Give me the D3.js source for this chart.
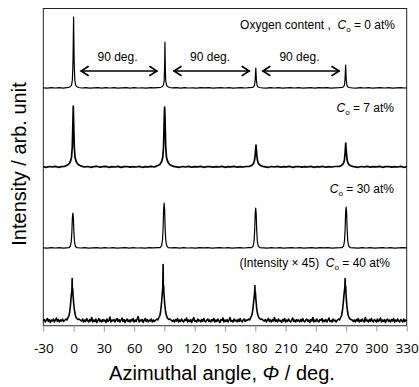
<!DOCTYPE html>
<html><head><meta charset="utf-8">
<script src="https://cdn.jsdelivr.net/npm/d3@7"></script>
<style>body{margin:0;background:#fff}svg{display:block}</style>
</head><body>
<script>
// ---- data ----
const tickLabels = [-30,0,30,60,90,120,150,180,210,240,270,300,330];
const seriesNames = ["Co = 0 at%","Co = 7 at%","Co = 30 at%","Co = 40 at%"];
const seriesOffsets = [237.5,158.5,77.5,4];
const co0 = [[-30,0.2],[-26,-0.2],[-22,0.3],[-18,0],[-14,0.4],[-10,-0.1],[-7,0.3],
[-5,0.5],[-3,1.5],[-2,3],[-1.2,8],[-0.6,25],[-0.2,55],[0,71],[0.2,55],[0.6,25],[1.2,8],[2,3],[3,1.5],[5,0.5],
[8,0],[12,0.3],[16,-0.2],[20,0.2],[24,0.4],[28,-0.1],[32,0.3],[36,0],[40,0.4],[44,-0.2],[48,0.2],[52,0.3],[56,-0.1],[60,0.3],[64,0],[68,0.2],[72,-0.2],[76,0.3],[80,0.1],[84,0.4],
[86,0.5],[88,1.5],[89,3],[89.7,7],[90.1,18],[90.4,38],[90.5,46],[90.6,38],[90.9,18],[91.3,7],[92,3],[93,1.5],[95,0.5],
[98,0.1],[102,0.3],[106,-0.1],[110,0.4],[114,0],[118,0.2],[122,-0.2],[126,0.3],[130,0.1],[134,0.4],[138,-0.1],[142,0.2],[146,0.3],[150,0],[154,0.4],[158,-0.1],[162,0.2],[166,0.3],[170,0],[174,0.3],
[177,0.5],[178.5,1.3],[179.3,3],[179.9,8],[180.3,16],[180.5,20],[180.7,16],[181.1,8],[181.7,3],[182.5,1.3],[184,0.5],
[187,0.2],[191,-0.1],[195,0.3],[199,0],[203,0.4],[207,-0.2],[211,0.2],[215,0.3],[219,0],[223,0.4],[227,-0.1],[231,0.2],[235,0.3],[239,-0.1],[243,0.3],[247,0.1],[251,0.4],[255,-0.1],[259,0.2],[263,0.3],
[266,0.5],[267.5,1.3],[268.3,3],[268.9,8],[269.3,18],[269.5,23],[269.7,18],[270.1,8],[270.7,3],[271.5,1.3],[273,0.5],
[276,0.2],[280,-0.1],[284,0.3],[288,0],[292,0.4],[296,-0.1],[300,0.2],[304,0.3],[308,0],[312,0.3],[316,-0.2],[320,0.2],[324,0.3],[328,0],[330,0.2]];
const co7 = [[-30,0.3],[-27,-0.4],[-24,0.5],[-21,0],[-18,0.6],[-15,-0.3],[-12,0.4],
[-9,0.6],[-7,1.5],[-5.2,2.5],[-4,4],[-3,6],[-2,10],[-1.3,20],[-0.9,35],[-0.5,52],[-0.3,61],[-0.1,52],[0.3,35],[0.7,20],[1.4,10],[2.4,6],[3.4,4],[4.6,2.5],[6.4,1.5],[8.4,0.6],
[11,0],[14,0.5],[17,-0.3],[20,0.4],[23,0.7],[26,-0.2],[29,0.3],[32,0.6],[35,-0.3],[38,0.4],[41,0],[44,0.6],[47,-0.4],[50,0.3],[53,0.5],[56,-0.2],[59,0.4],[62,0],[65,0.6],[68,-0.3],[71,0.4],[74,0.2],[77,0.7],[80,0],
[81.5,0.6],[83.5,1.5],[85.5,2.5],[86.4,4],[87.4,6],[88.4,10],[89.1,20],[89.5,35],[89.9,52],[90.2,60],[90.5,52],[90.9,35],[91.3,20],[92,10],[93,6],[94,4],[95.2,2.5],[97,1.5],[99,0.6],
[102,0.2],[105,-0.3],[108,0.5],[111,0],[114,0.6],[117,-0.2],[120,0.4],[123,0.1],[126,0.6],[129,-0.3],[132,0.3],[135,0.5],[138,-0.2],[141,0.4],[144,0],[147,0.6],[150,-0.3],[153,0.4],[156,0.2],[159,0.6],[162,-0.2],[165,0.4],[168,0],[171,0.5],
[174,0.6],[176,1.3],[177.5,2.5],[178.5,4],[179.3,7],[179.9,12],[180.4,18],[180.7,22],[181,18],[181.5,12],[182.1,7],[182.9,4],[183.9,2.5],[185.4,1.3],[187.4,0.6],
[190,0.2],[193,-0.3],[196,0.5],[199,0],[202,0.6],[205,-0.2],[208,0.4],[211,0.1],[214,0.6],[217,-0.3],[220,0.3],[223,0.5],[226,-0.2],[229,0.4],[232,0],[235,0.6],[238,-0.3],[241,0.4],[244,0.2],[247,0.6],[250,-0.2],[253,0.4],[256,0],[259,0.5],
[263,0.6],[265,1.3],[266.5,2.5],[267.5,4],[268.3,7],[268.9,13],[269.3,19],[269.6,24],[269.9,19],[270.4,13],[271,7],[271.8,4],[272.8,2.5],[274.3,1.3],[276.3,0.6],
[279,0.2],[282,-0.3],[285,0.5],[288,0],[291,0.6],[294,-0.2],[297,0.4],[300,0.1],[303,0.6],[306,-0.3],[309,0.3],[312,0.5],[315,-0.2],[318,0.4],[321,0],[324,0.6],[327,-0.3],[330,0.3]];
const co30 = [[-30,0.2],[-26,-0.2],[-22,0.3],[-18,0],[-14,0.3],[-10,-0.1],[-7,0.2],
[-4.7,0.3],[-3.2,1.8],[-2.3,6.3],[-1.7,16],[-1.2,30],[-0.7,35],[-0.2,30],[0.3,16],[0.9,6.3],[1.8,1.8],[3.3,0.3],
[7,0],[11,0.3],[15,-0.2],[19,0.2],[23,0.3],[27,-0.1],[31,0.3],[35,0],[39,0.3],[43,-0.2],[47,0.2],[51,0.3],[55,-0.1],[59,0.3],[63,0],[67,0.2],[71,-0.2],[75,0.3],[79,0.1],[83,0.3],
[85.7,0.4],[87.2,2.3],[88.1,8],[88.7,20],[89.2,38],[89.7,45],[90.2,38],[90.7,20],[91.3,8],[92.2,2.3],[93.7,0.4],
[97,0.1],[101,0.3],[105,-0.1],[109,0.3],[113,0],[117,0.2],[121,-0.2],[125,0.3],[129,0.1],[133,0.3],[137,-0.1],[141,0.2],[145,0.3],[149,0],[153,0.3],[157,-0.1],[161,0.2],[165,0.3],[169,0],[173,0.3],
[176.4,0.4],[177.9,2],[178.8,7],[179.4,18],[179.9,34],[180.4,40],[180.9,34],[181.4,18],[182,7],[182.9,2],[184.4,0.4],
[188,0.2],[192,-0.1],[196,0.3],[200,0],[204,0.3],[208,-0.2],[212,0.2],[216,0.3],[220,0],[224,0.3],[228,-0.1],[232,0.2],[236,0.3],[240,-0.1],[244,0.3],[248,0.1],[252,0.3],[256,-0.1],[260,0.2],[264,0.3],
[266,0.4],[267.5,2],[268.4,7.4],[269,18.5],[269.5,35],[270,41],[270.5,35],[271,18.5],[271.6,7.4],[272.5,2],[274,0.4],
[278,0.2],[282,-0.1],[286,0.3],[290,0],[294,0.3],[298,-0.1],[302,0.2],[306,0.3],[310,0],[314,0.3],[318,-0.2],[322,0.2],[326,0.3],[330,0.1]];
const co40 = [[-30,0.5],[-29,2],[-28,-0.5],[-27,1.5],[-26,3],[-25,0],[-24,2],[-23,-1],[-22,1.5],[-21,0.5],[-20,2.5],[-19,-0.5],[-18,1.5],[-17,3.5],[-16,0],[-15,2],[-14,-0.5],[-13,1.5],[-12,0.5],[-11,2.5],[-10,0],
[-9,1],[-7.5,2.5],[-6.5,1.5],[-5.5,4],[-4.5,6],[-3.8,10],[-3.2,15],[-2.6,22],[-2.1,28],[-1.7,31],[-1.4,43],[-1.2,30],[-0.9,33],[-0.6,27],[-0.2,22],[0.3,16],[0.9,11],[1.6,7],[2.4,4],[3.2,3],[4.2,2],[5.5,2.5],[7,1],
[8,0.5],[9,2.5],[10,-0.5],[11,1.5],[12,0],[13,3],[14,1],[15,-0.5],[16,2],[17,0.5],[18,4],[19,-0.5],[20,1.5],[21,0],[22,2.5],[23,-1],[24,1],[25,3],[26,0],[27,1.5],[28,-0.5],[29,2],[30,0.5],[31,1.5],[32,-1],[33,2.5],[34,0],[35,1],[36,4.5],[37,-0.5],[38,1.5],[39,0.5],[40,2],[41,-0.5],[42,1.5],[43,3],[44,0],
[45,2],[46,-0.5],[47,1.5],[48,3.5],[49,0],[50,2],[51,-1],[52,1],[53,2.5],[54,0],[55,1.5],[56,-0.5],[57,2],[58,0.5],[59,3],[60,-0.5],[61,1.5],[62,0],[63,2.5],[64,5],[65,-0.5],[66,1.5],[67,0.5],[68,2],[69,-1],[70,1.5],[71,3],[72,0],[73,2],[74,-0.5],[75,1.5],[76,0.5],[77,2.5],[78,-0.5],[79,1.5],[80,0],
[81,1],[82.5,2.5],[83.5,1.5],[84.5,4],[85.5,6],[86.2,10],[86.8,15],[87.4,22],[87.9,29],[88.3,33],[88.7,57],[88.9,34],[89.2,36],[89.5,28],[89.9,23],[90.4,16],[91,11],[91.7,7],[92.5,4.5],[93.3,3],[94.3,2],[95.5,2.5],[97,1],
[98,0],[99,1.5],[100,-0.5],[101,2],[102,0.5],[103,3],[104,-0.5],[105,1.5],[106,0],[107,2.5],[108,0.5],[109,-0.5],[110,2],[111,1],[112,3.5],[113,-0.5],[114,1.5],[115,0],[116,2],[117,-1],[118,1.5],[119,4],[120,0],[121,1],[122,-0.5],[123,2.5],[124,0.5],[125,1.5],[126,-0.5],[127,2],[128,0],[129,3],[130,0.5],[131,-0.5],[132,1.5],[133,2.5],[134,0],
[135,1.5],[136,-0.5],[137,2],[138,0.5],[139,3],[140,-0.5],[141,1.5],[142,0],[143,2.5],[144,0.5],[145,-1],[146,2],[147,1],[148,3.5],[149,-0.5],[150,1.5],[151,0],[152,2],[153,-0.5],[154,1.5],[155,4],[156,0],[157,1],[158,-0.5],[159,2.5],[160,0.5],[161,1.5],[162,-0.5],[163,2],[164,0],[165,3],[166,0.5],[167,-0.5],[168,1.5],[169,2.5],[170,0],[171,1.5],
[172,1],[173.5,2.5],[174.5,1.5],[175.5,4],[176.5,6],[177.2,9],[177.8,14],[178.4,20],[178.9,25],[179.3,28],[179.6,36],[179.9,27],[180.2,29],[180.5,23],[180.9,19],[181.4,13],[182,9],[182.7,6],[183.5,4],[184.3,3],[185.3,2],[186.5,2.5],[188,1],
[189,0.5],[190,2],[191,-0.5],[192,1.5],[193,3],[194,0],[195,1.5],[196,-0.5],[197,2],[198,0.5],[199,4],[200,0],[201,1.5],[202,-0.5],[203,2.5],[204,0.5],[205,1],[206,-1],[207,2],[208,0.5],[209,3],[210,-0.5],[211,1.5],[212,0],[213,2.5],[214,0.5],[215,-0.5],[216,1.5],[217,3.5],[218,0],[219,1.5],[220,-0.5],[221,2],[222,0.5],[223,1.5],[224,-0.5],
[225,2],[226,0],[227,3],[228,0.5],[229,-0.5],[230,1.5],[231,2.5],[232,0],[233,1.5],[234,-1],[235,2],[236,0.5],[237,4],[238,-0.5],[239,1.5],[240,0],[241,2.5],[242,0.5],[243,-0.5],[244,2],[245,1],[246,3],[247,-0.5],[248,1.5],[249,0],[250,2],[251,-0.5],[252,1.5],[253,3.5],[254,0],[255,1],[256,-0.5],[257,2.5],[258,0.5],[259,1.5],[260,-0.5],
[261,1],[262.5,2.5],[263.5,1.5],[264.5,4],[265.5,6],[266.2,10],[266.8,15],[267.4,21],[267.9,27],[268.3,31],[268.7,34],[269,43],[269.3,33],[269.6,35],[269.9,27],[270.3,21],[270.8,15],[271.4,10],[272.1,6],[272.9,4],[273.8,2.5],[275,2],[276.5,1],
[277,0],[278,1.5],[279,-0.5],[280,2],[281,0.5],[282,3],[283,-0.5],[284,1.5],[285,0],[286,2.5],[287,0.5],[288,-0.5],[289,4],[290,0.5],[291,1.5],[292,-0.5],[293,2],[294,0],[295,3],[296,0.5],[297,-0.5],[298,2],[299,1],[300,-0.5],[301,2.5],[302,0],[303,1.5],
[304,3.5],[305,-0.5],[306,1.5],[307,0],[308,2],[309,-1],[310,1.5],[311,2.5],[312,0],[313,1.5],[314,-0.5],[315,2],[316,0.5],[317,3],[318,-0.5],[319,1.5],[320,0],[321,2.5],[322,0.5],[323,-0.5],[324,2],[325,1],[326,-0.5],[327,2.5],[328,0],[329,1.5],[330,0.5]];
const seriesData = [co0, co7, co30, co40];
const arrowSpans = [[7.5,82.5],[99.5,174],[187.5,263]];
const arrowLabel = "90 deg.";

// ---- layout ----
const W = 419, H = 387;
const M = {left:43.3, right:406.7, top:8.5, bottom:325.5};
const svg = d3.select("body").append("svg").attr("width",W).attr("height",H);
const x = d3.scaleLinear().domain([-30,330]).range([M.left,M.right]);
const y = d3.scaleLinear().domain([0,317]).range([M.bottom,M.top]);
const font = "'Liberation Sans', Arial, sans-serif";

// frame
svg.append("rect").attr("x",M.left).attr("y",M.top).attr("width",M.right-M.left).attr("height",M.bottom-M.top)
  .attr("fill","none").attr("stroke","#222").attr("stroke-width",1);

// traces
const strokes = [1.2,1.7,1.2,1.6];
const line = d3.line().x(d=>x(d[0]));
seriesData.forEach((s,i)=>{
  svg.append("path").datum(s)
    .attr("d", line.y(d=>y(d[1]+seriesOffsets[i])))
    .attr("fill","none").attr("stroke","#000").attr("stroke-width",strokes[i]).attr("stroke-linejoin","round");
});

// x axis
const ax = svg.append("g").attr("transform",`translate(0,${M.bottom})`)
  .call(d3.axisBottom(x).tickValues(tickLabels).tickSize(6).tickSizeOuter(0).tickPadding(12).tickFormat(d=>String(d)));
ax.select(".domain").attr("stroke","#999");
ax.selectAll(".tick line").attr("stroke","#999");
ax.selectAll(".tick text").attr("font-family","'Open Sans', sans-serif").attr("font-size",13.5).attr("fill","#000");

// axis titles
const xt = svg.append("text").attr("x",222).attr("y",380).attr("text-anchor","middle")
  .attr("font-family",font).attr("font-size",20).attr("fill","#000");
xt.append("tspan").text("Azimuthal angle, ");
xt.append("tspan").attr("font-style","italic").text("\u03A6");
xt.append("tspan").text(" / deg.");
svg.append("text").attr("transform","translate(26,164) rotate(-90)").attr("text-anchor","middle")
  .attr("font-family",font).attr("font-size",20).attr("fill","#000").text("Intensity / arb. unit");

// series labels
const labelY = [29,112,193,267];
const prefixes = ["Oxygen content ,  ","","","(Intensity \u00D7 45)  "];
const values = ["0","7","30","40"];
const rightX = [395,394,394,390];
labelY.forEach((ly,i)=>{
  const t = svg.append("text").attr("x",rightX[i]).attr("y",ly).attr("text-anchor","end")
    .attr("font-family",font).attr("font-size",12).attr("fill","#000").attr("xml:space","preserve");
  t.append("tspan").text(prefixes[i]);
  t.append("tspan").attr("font-style","italic").text("C");
  t.append("tspan").attr("font-size",8).attr("dy",2.5).text("o");
  t.append("tspan").attr("dy",-2.5).text(` = ${values[i]} at%`);
});

// arrows
const ay = 71;
arrowSpans.forEach(([a,b])=>{
  const x1 = x(a), x2 = x(b);
  const g = svg.append("g").attr("stroke","#000").attr("stroke-width",1.6).attr("fill","none").attr("stroke-linecap","round");
  g.append("line").attr("x1",x1).attr("x2",x2).attr("y1",ay).attr("y2",ay);
  g.append("path").attr("d",`M${x1+7},${ay-4.5}L${x1},${ay}L${x1+7},${ay+4.5}`);
  g.append("path").attr("d",`M${x2-7},${ay-4.5}L${x2},${ay}L${x2-7},${ay+4.5}`);
  svg.append("text").attr("x",(x1+x2)/2-1.5).attr("y",61).attr("text-anchor","middle")
    .attr("font-family",font).attr("font-size",12).attr("fill","#000").text(arrowLabel);
});
</script>
</body></html>
